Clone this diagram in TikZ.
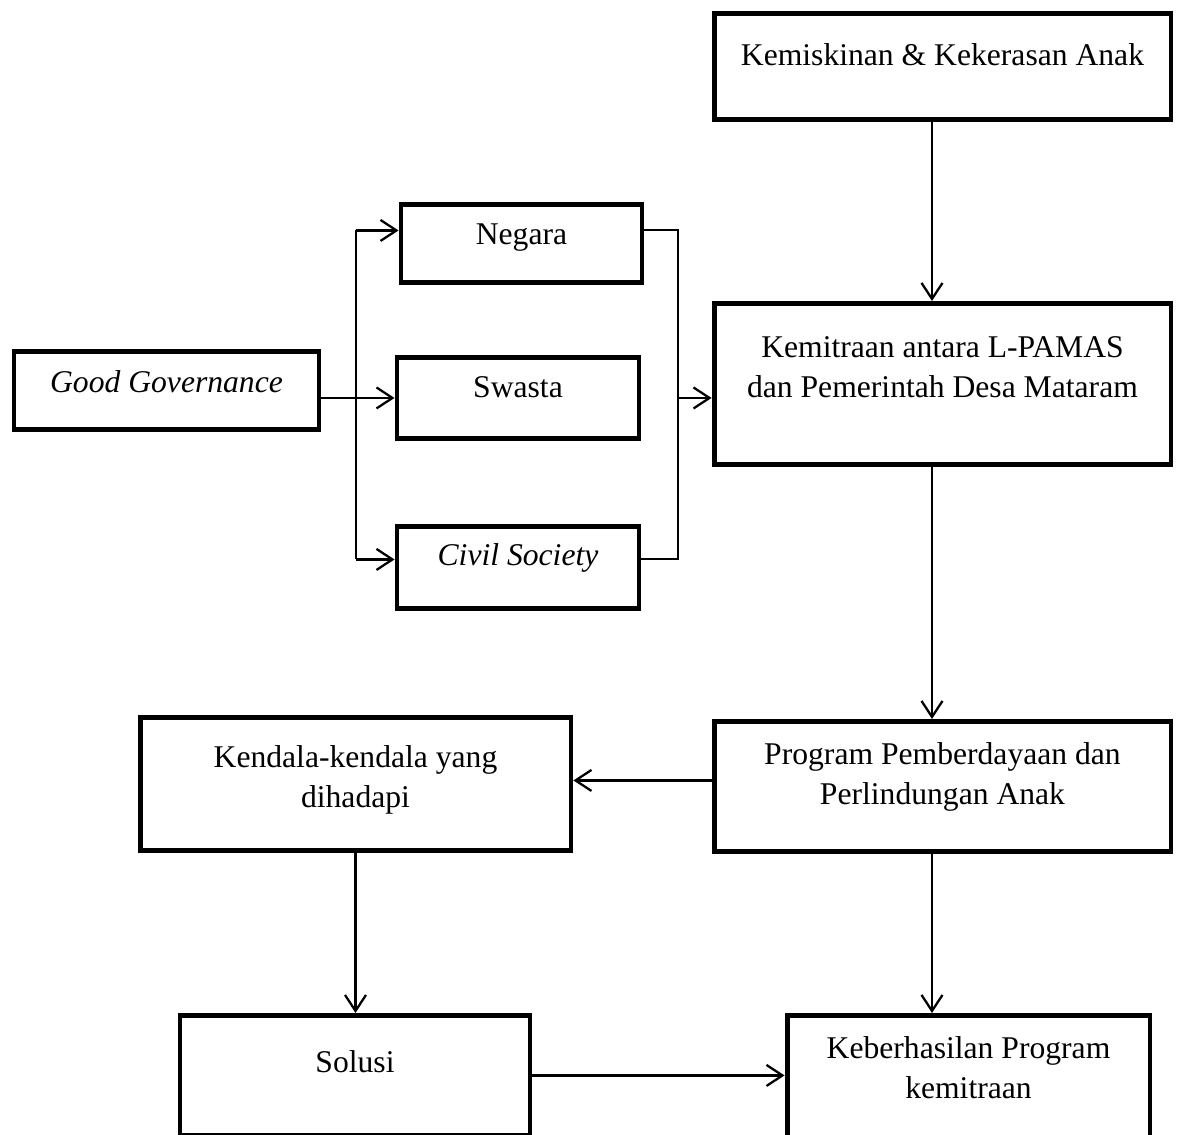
\documentclass[tikz,border=0pt]{standalone}
\usepackage{fontspec}
\setmainfont{Liberation Serif}
\usetikzlibrary{arrows.meta,calc}

\tikzset{
  box/.style={draw, line width=2.8pt, inner sep=0pt, anchor=north, align=flush center,
    font=\fontsize{18pt}{23pt}\selectfont},
  arr/.style={line width=1.3pt, -{Straight Barb[length=3.2mm,width=4.2mm]}},
  link/.style={line width=1.1pt}
}

\begin{document}
\begin{tikzpicture}[x=0.02cm, y=-0.02cm]
  \useasboundingbox (0,0) rectangle (1181,1135);

  % main column
  \node[box, minimum width=9.14cm, text height=1.03cm, text depth=1.08cm] (kemiskinan) at (942.5,11.5) {Kemiskinan \& Kekerasan Anak};
  \node[box, minimum width=9.14cm, text width=8.5cm, text height=1.08cm, text depth=2.14cm] (kemitraan) at (942.5,301) {Kemitraan antara L-PAMAS\\ dan Pemerintah Desa Mataram};
  \node[box, minimum width=9.14cm, text width=8.5cm, text height=0.86cm, text depth=1.74cm] (program) at (942.5,719) {Program Pemberdayaan dan\\ Perlindungan Anak};
  \node[box, minimum width=7.26cm, text width=6.8cm, text height=0.86cm, text depth=2.2cm] (keberhasilan) at (968.5,1013) {Keberhasilan Program\\ kemitraan};

  % left column
  \node[box, minimum width=8.62cm, text width=8cm, text height=1.0cm, text depth=1.66cm] (kendala) at (355.5,715) {Kendala-kendala yang\\ dihadapi};
  \node[box, minimum width=7.0cm, text height=1.14cm, text depth=1.26cm] (solusi) at (355,1013) {Solusi};

  % actors
  \node[box, minimum width=6.1cm, text height=0.82cm, text depth=0.74cm] (gg) at (166.5,349) {\textit{Good Governance}};
  \node[box, minimum width=4.82cm, text height=0.8cm, text depth=0.76cm] (negara) at (521.5,202) {Negara};
  \node[box, minimum width=4.84cm, text height=0.8cm, text depth=0.82cm] (swasta) at (518,355) {Swasta};
  \node[box, minimum width=4.84cm, text height=0.78cm, text depth=0.86cm] (civil) at (518,524) {\textit{Civil Society}};

  \coordinate (axis) at (932,0);
  \coordinate (split) at (356,0);
  \coordinate (merge) at (678,0);
  \coordinate (negara-in) at ([yshift=0.26cm]negara.west);
  \coordinate (negara-out) at ([yshift=0.26cm]negara.east);
  \coordinate (civil-in) at ([yshift=0.16cm]civil.west);
  \coordinate (civil-out) at ([yshift=0.16cm]civil.east);

  % fan out / fan in
  \draw[link] (gg.east |- swasta.west) -- (split |- swasta.west);
  \draw[link] (split |- negara-in) -- (split |- civil-in);
  \draw[arr] (split |- negara-in) -- (negara-in);
  \draw[arr] (split |- swasta.west) -- (swasta.west);
  \draw[arr] (split |- civil-in) -- (civil-in);
  \draw[link] (negara-out) -- (merge |- negara-out) -- (merge |- civil-out) -- (civil-out);
  \draw[arr] (merge |- swasta.east) -- (kemitraan.west |- swasta.east);

  % flow
  \draw[arr] (kemiskinan.south -| axis) -- (kemitraan.north -| axis);
  \draw[arr] (kemitraan.south -| axis) -- (program.north -| axis);
  \draw[arr] (program.south -| axis) -- (keberhasilan.north -| axis);
  \draw[arr] ([yshift=0.12cm]program.west) -- ([yshift=0.12cm]program.west -| kendala.east);
  \draw[arr] (kendala.south) -- (kendala.south |- solusi.north);
  \draw[arr] (solusi.east) -- (solusi.east -| keberhasilan.west);
\end{tikzpicture}
\end{document}
